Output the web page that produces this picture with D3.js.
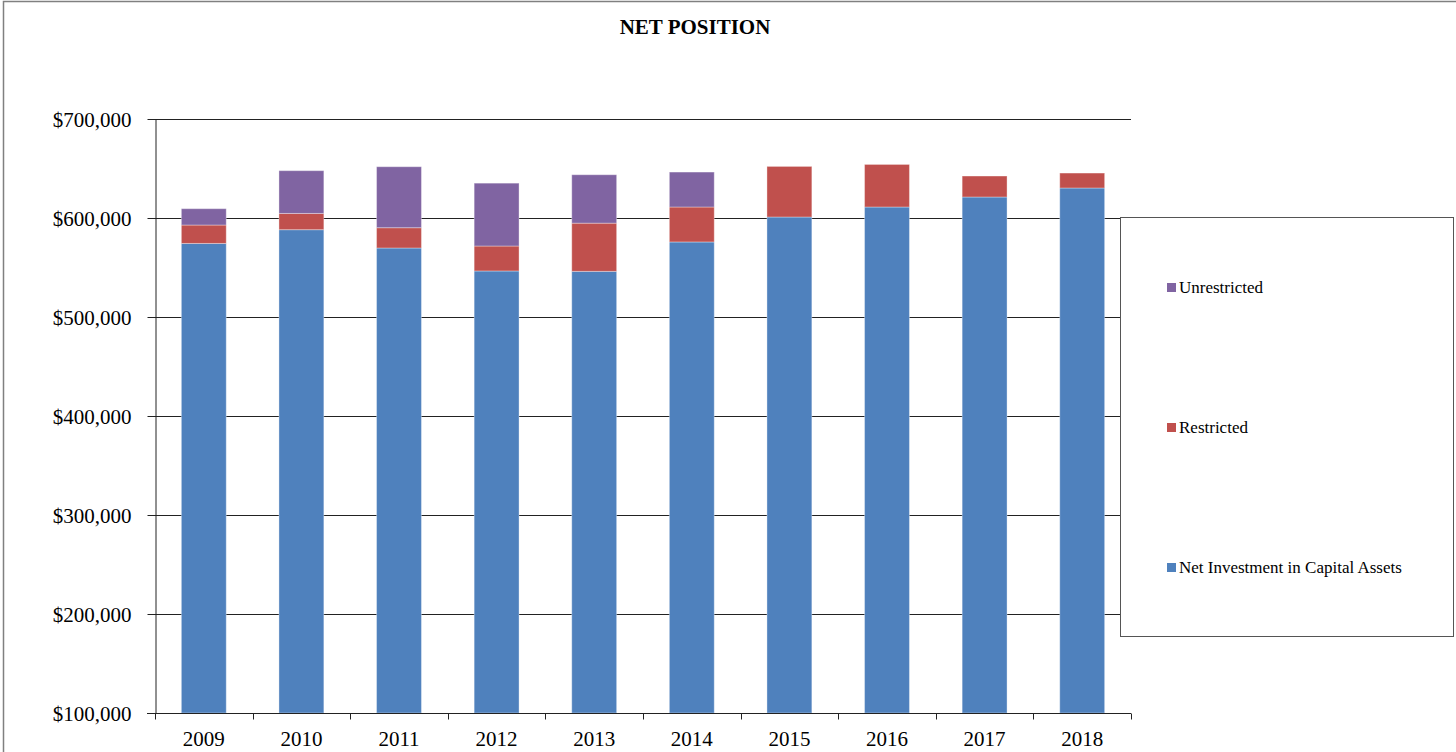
<!DOCTYPE html>
<html>
<head>
<meta charset="utf-8">
<script src="https://d3js.org/d3.v7.min.js"></script>
<style>
  body { margin: 0; background: #fff; }
  svg text { font-family: "Liberation Serif", "Times New Roman", serif; }
</style>
</head>
<body>
<div id="chart"></div>
<script>
//data, values in dollars
var years = ["2009","2010","2011","2012","2013","2014","2015","2016","2017","2018"];
var netInvestment = [574300, 588200, 569700, 546500, 546100, 575800, 601000, 611100, 621200, 630300];
var restricted    = [18600, 16400, 20500, 25200, 48700, 35300, 51100, 43000, 21200, 15100];
var unrestricted  = [16500, 43200, 61600, 63500, 48900, 35300, 0, 0, 0, 0];
var yTicks = [100000, 200000, 300000, 400000, 500000, 600000, 700000];

var seriesNames = ["Net Investment in Capital Assets", "Restricted", "Unrestricted"];
var seriesColors = ["#4F81BD", "#C0504D", "#8064A2"];

var width = 1456, height = 752;
var plot = {l: 155, r: 1131, t: 119, b: 713};

var svg = d3.select("#chart").append("svg")
    .attr("width", width)
    .attr("height", height);

//outer chart border
svg.append("path")
    .attr("d", "M3.5," + height + "V1.5H" + width)
    .attr("fill", "none")
    .attr("stroke", "#808080")
    .attr("stroke-width", 1.5);

svg.append("text")
    .attr("x", 695)
    .attr("y", 34)
    .attr("text-anchor", "middle")
    .attr("font-size", "21px")
    .attr("font-weight", "bold")
    .text("NET POSITION");

var x = d3.scaleBand().domain(years).range([plot.l, plot.r]).paddingInner(0.54).paddingOuter(0.27);
var y = d3.scaleLinear().domain([100000, 700000]).range([plot.b, plot.t]);

//table for stacking
var table = years.map(function (yr, i) {
    return {year: yr, net: netInvestment[i], res: restricted[i], unr: unrestricted[i]};
});
var stack = d3.stack().keys(["net", "res", "unr"]);
var stacked = stack(table);

//gridlines
svg.append("g")
    .selectAll("line")
    .data(yTicks.slice(1))
    .enter().append("line")
    .attr("x1", plot.l)
    .attr("x2", plot.r)
    .attr("y1", function (d) { return Math.round(y(d)) + 0.5; })
    .attr("y2", function (d) { return Math.round(y(d)) + 0.5; })
    .attr("stroke", "#222")
    .attr("stroke-width", 1);

//bars
var layers = svg.append("g").selectAll("g")
    .data(stacked)
    .enter().append("g")
    .attr("fill", function (d, i) { return seriesColors[i]; });

layers.selectAll("rect")
    .data(function (d) { return d; })
    .enter().append("rect")
    .attr("x", function (d) { return x(d.data.year); })
    .attr("width", x.bandwidth())
    .attr("y", function (d) { return y(Math.max(d[1], 100000)); })
    .attr("height", function (d) { return Math.max(0, y(Math.max(d[0], 100000)) - y(Math.max(d[1], 100000))); })
    .attr("stroke", "#ffffff")
    .attr("stroke-opacity", function (d) { return d[1] > d[0] ? 0.35 : 0; })
    .attr("stroke-width", 1);

//y axis
var yAxis = svg.append("g")
    .attr("transform", "translate(" + (plot.l + 0.5) + ",0)")
    .call(d3.axisLeft(y).tickValues(yTicks).tickSize(8).tickSizeOuter(0)
        .tickFormat(function (d) { return "$" + d3.format(",")(d); }));
yAxis.select(".domain").attr("stroke", "#222");
yAxis.selectAll(".tick line").attr("stroke", "#222");
yAxis.selectAll("text")
    .attr("font-size", "21px")
    .attr("fill", "#000")
    .attr("x", -24)
    .attr("dy", "0.35em")
    .style("font-family", "'Liberation Serif', 'Times New Roman', serif");

//x axis, ticks between categories
var xAxis = svg.append("g")
    .attr("transform", "translate(0," + (plot.b + 0.5) + ")");
xAxis.append("line")
    .attr("x1", plot.l - 8)
    .attr("x2", plot.r)
    .attr("stroke", "#222");
var bounds = years.map(function (yr) { return x(yr) - x.step() * x.paddingInner() / 2; });
bounds.push(plot.r);
xAxis.selectAll(".xtick")
    .data(bounds)
    .enter().append("line")
    .attr("class", "xtick")
    .attr("x1", function (d) { return Math.round(d) + 0.5; })
    .attr("x2", function (d) { return Math.round(d) + 0.5; })
    .attr("y1", 0)
    .attr("y2", 6)
    .attr("stroke", "#222");
xAxis.selectAll(".xlabel")
    .data(years)
    .enter().append("text")
    .attr("class", "xlabel")
    .attr("x", function (d) { return x(d) + x.bandwidth() / 2; })
    .attr("y", 32)
    .attr("text-anchor", "middle")
    .attr("font-size", "21px")
    .text(function (d) { return d; });

//legend
var legend = svg.append("g");
legend.append("rect")
    .attr("x", 1120.5)
    .attr("y", 217.5)
    .attr("width", 333)
    .attr("height", 419)
    .attr("fill", "#fff")
    .attr("stroke", "#555")
    .attr("stroke-width", 1);

var legendItems = [2, 1, 0];
var legendY = [287, 427, 567];
legendItems.forEach(function (s, i) {
    legend.append("rect")
        .attr("x", 1167)
        .attr("y", legendY[i] - 4)
        .attr("width", 9)
        .attr("height", 9)
        .attr("fill", seriesColors[s]);
    legend.append("text")
        .attr("x", 1179)
        .attr("y", legendY[i])
        .attr("dy", "0.35em")
        .attr("font-size", "17px")
        .text(seriesNames[s]);
});
</script>
</body>
</html>
